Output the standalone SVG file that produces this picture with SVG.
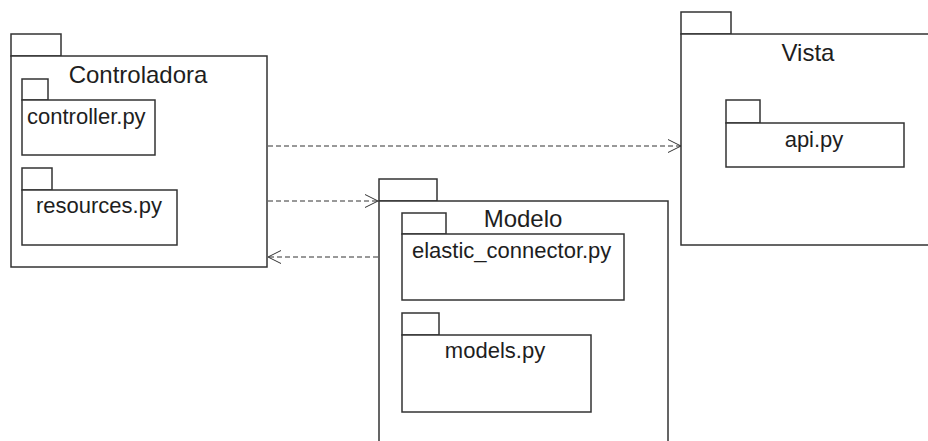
<svg xmlns="http://www.w3.org/2000/svg" width="928" height="441" viewBox="0 0 928 441">
  <style>
    .pkg { fill: #ffffff; stroke: #333333; stroke-width: 1.5; }
    .title { font-family: "Liberation Sans", Arial, sans-serif; font-size: 24px; fill: #1e1e1e; }
    .label { font-family: "Liberation Sans", Arial, sans-serif; font-size: 22px; fill: #1e1e1e; }
    .dep { fill: none; stroke: #333333; stroke-width: 1; stroke-dasharray: 5 3; }
  </style>
  <defs>
    <marker id="open" markerWidth="16" markerHeight="16" refX="13" refY="7" orient="auto" markerUnits="userSpaceOnUse">
      <path d="M0,0.5 L13,7 L0,13.5" fill="none" stroke="#333333" stroke-width="1"/>
    </marker>
  </defs>
  <rect width="928" height="441" fill="#ffffff"/>

  <!-- Controladora package -->
  <g id="controladora">
    <rect class="pkg" x="11" y="34" width="50" height="22"/>
    <rect class="pkg" x="11" y="56" width="256" height="211"/>
    <text class="title" x="138" y="83" text-anchor="middle">Controladora</text>
  </g>
  <g id="controller">
    <rect class="pkg" x="22" y="79" width="26" height="21"/>
    <rect class="pkg" x="22" y="100" width="133" height="55"/>
    <text class="label" x="27" y="124">controller.py</text>
  </g>
  <g id="resources">
    <rect class="pkg" x="22" y="168" width="30" height="22"/>
    <rect class="pkg" x="22" y="190" width="155" height="55"/>
    <text class="label" x="99" y="213" text-anchor="middle">resources.py</text>
  </g>

  <!-- Vista package -->
  <g id="vista">
    <rect class="pkg" x="681" y="12" width="50" height="22"/>
    <rect class="pkg" x="681" y="34" width="260" height="211"/>
    <text class="title" x="808" y="61" text-anchor="middle">Vista</text>
  </g>
  <g id="api">
    <rect class="pkg" x="726" y="100" width="34" height="23"/>
    <rect class="pkg" x="726" y="123" width="178" height="44"/>
    <text class="label" x="814" y="147" text-anchor="middle">api.py</text>
  </g>

  <!-- Modelo package -->
  <g id="modelo">
    <rect class="pkg" x="379" y="179" width="58" height="22"/>
    <rect class="pkg" x="379" y="201" width="289" height="260"/>
    <text class="title" x="523" y="227" text-anchor="middle">Modelo</text>
  </g>
  <g id="elastic_connector">
    <rect class="pkg" x="402" y="213" width="44" height="21"/>
    <rect class="pkg" x="402" y="234" width="222" height="66"/>
    <text class="label" x="412" y="258">elastic_connector.py</text>
  </g>
  <g id="models">
    <rect class="pkg" x="402" y="313" width="37" height="22"/>
    <rect class="pkg" x="402" y="335" width="189" height="77"/>
    <text class="label" x="495" y="358" text-anchor="middle">models.py</text>
  </g>

  <!-- dependencies -->
  <g id="connectors">
    <line class="dep" x1="268" y1="146" x2="681" y2="146" marker-end="url(#open)"/>
    <line class="dep" x1="268" y1="201" x2="378" y2="201" marker-end="url(#open)"/>
    <line class="dep" x1="378" y1="257" x2="268" y2="257" marker-end="url(#open)"/>
  </g>
</svg>
